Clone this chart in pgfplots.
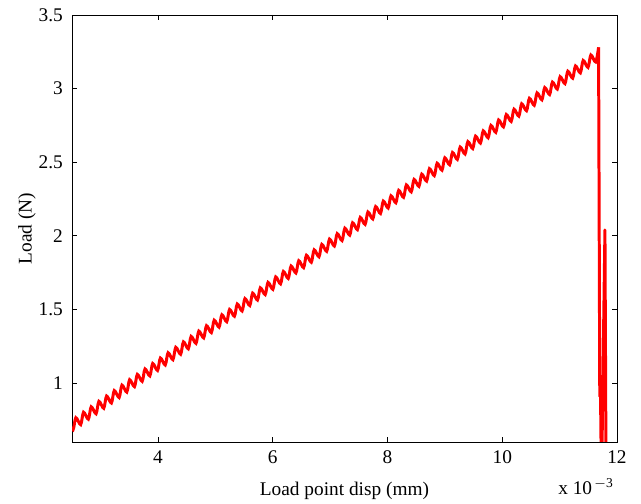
\documentclass[border=0pt]{standalone}
\usepackage{pgfplots}
\pgfplotsset{compat=1.18}
\usepackage{fontspec}
\setmainfont{Liberation Serif}

% load-displacement record, x in units of 1e-3 mm
\pgfplotstableread{
x y
2.433 0.729
2.517 0.682
2.567 0.765
2.651 0.718
2.701 0.802
2.785 0.755
2.835 0.839
2.919 0.792
2.969 0.876
3.053 0.829
3.103 0.912
3.187 0.865
3.237 0.949
3.321 0.902
3.371 0.986
3.455 0.939
3.505 1.023
3.589 0.976
3.639 1.059
3.723 1.012
3.773 1.096
3.857 1.049
3.907 1.133
3.991 1.086
4.041 1.170
4.125 1.123
4.175 1.206
4.259 1.159
4.309 1.243
4.393 1.196
4.443 1.280
4.527 1.233
4.577 1.317
4.661 1.270
4.711 1.353
4.795 1.307
4.845 1.390
4.929 1.343
4.979 1.427
5.063 1.380
5.113 1.464
5.197 1.417
5.247 1.500
5.331 1.454
5.381 1.537
5.465 1.490
5.515 1.574
5.599 1.527
5.649 1.611
5.733 1.564
5.783 1.647
5.867 1.601
5.917 1.684
6.001 1.637
6.051 1.721
6.135 1.674
6.185 1.758
6.269 1.711
6.319 1.795
6.403 1.748
6.453 1.831
6.537 1.784
6.587 1.868
6.671 1.821
6.721 1.905
6.805 1.858
6.855 1.942
6.939 1.895
6.989 1.978
7.073 1.931
7.123 2.015
7.207 1.968
7.257 2.052
7.341 2.005
7.391 2.089
7.475 2.042
7.525 2.125
7.609 2.078
7.659 2.162
7.743 2.115
7.793 2.199
7.877 2.152
7.927 2.236
8.011 2.189
8.061 2.272
8.145 2.225
8.195 2.309
8.279 2.262
8.329 2.346
8.413 2.299
8.463 2.383
8.547 2.336
8.597 2.419
8.681 2.372
8.731 2.456
8.815 2.409
8.865 2.493
8.949 2.446
8.999 2.530
9.083 2.483
9.133 2.566
9.217 2.519
9.267 2.603
9.351 2.556
9.401 2.640
9.485 2.593
9.535 2.677
9.619 2.630
9.669 2.713
9.753 2.666
9.803 2.750
9.887 2.703
9.937 2.787
10.021 2.740
10.071 2.824
10.155 2.777
10.205 2.860
10.289 2.813
10.339 2.897
10.423 2.850
10.473 2.934
10.557 2.887
10.607 2.971
10.691 2.924
10.741 3.007
10.825 2.960
10.875 3.044
10.959 2.997
11.009 3.081
11.093 3.034
11.143 3.118
11.227 3.071
11.277 3.154
11.361 3.107
11.411 3.191
11.495 3.144
11.545 3.228
11.629 3.181
11.679 3.280
}\loaddata

% failure: drop after the peak load
\pgfplotstableread{
x y
11.679 3.280
11.700 0.910
11.712 0.960
11.730 0.300
11.790 2.040
11.810 0.300
}\failure

\begin{document}
\begin{tikzpicture}
\useasboundingbox (-1.44,-1.24) rectangle (11.38,8.84);
\begin{axis}[
    at={(0,0)}, anchor=south west,
    width=10.9cm, height=8.54cm, scale only axis,
    xmin=2.5, xmax=12, ymin=0.6, ymax=3.5,
    xtick={4,6,8,10,12},
    ytick={1,1.5,2,2.5,3,3.5},
    yticklabels={1,1.5,2,2.5,3,3.5},
    tick align=inside, tick pos=both,
    major tick length=0.1cm,
    axis line style={line width=0.5pt},
    every tick/.style={black, line width=0.5pt},
    /pgf/number format/assume math mode=true,
    tick label style={font=\fontsize{11}{13}\selectfont},
    xticklabel style={yshift=-0.05cm},
    yticklabel style={xshift=-0.06cm},
    label style={font=\fontsize{11}{13}\selectfont},
    xlabel={Load point disp (mm)},
    xlabel style={at={(axis description cs:0.5,-0.094)}, anchor=north, inner sep=0pt},
    ylabel={Load (N)},
    ylabel style={at={(axis description cs:-0.066,0.5)}, anchor=south, inner sep=0pt},
    scaled x ticks=false,
]
\addplot[red, line width=1.7pt, smooth, tension=0.5] table {\loaddata};
\addplot[red, line width=1.7pt, line join=round] table {\failure};
\end{axis}
\node[anchor=north east, inner sep=0pt, font=\fontsize{11}{13}\selectfont]
    at (10.84,-0.72) {x 10\textsuperscript{\,$-$3}};
\end{tikzpicture}
\end{document}
